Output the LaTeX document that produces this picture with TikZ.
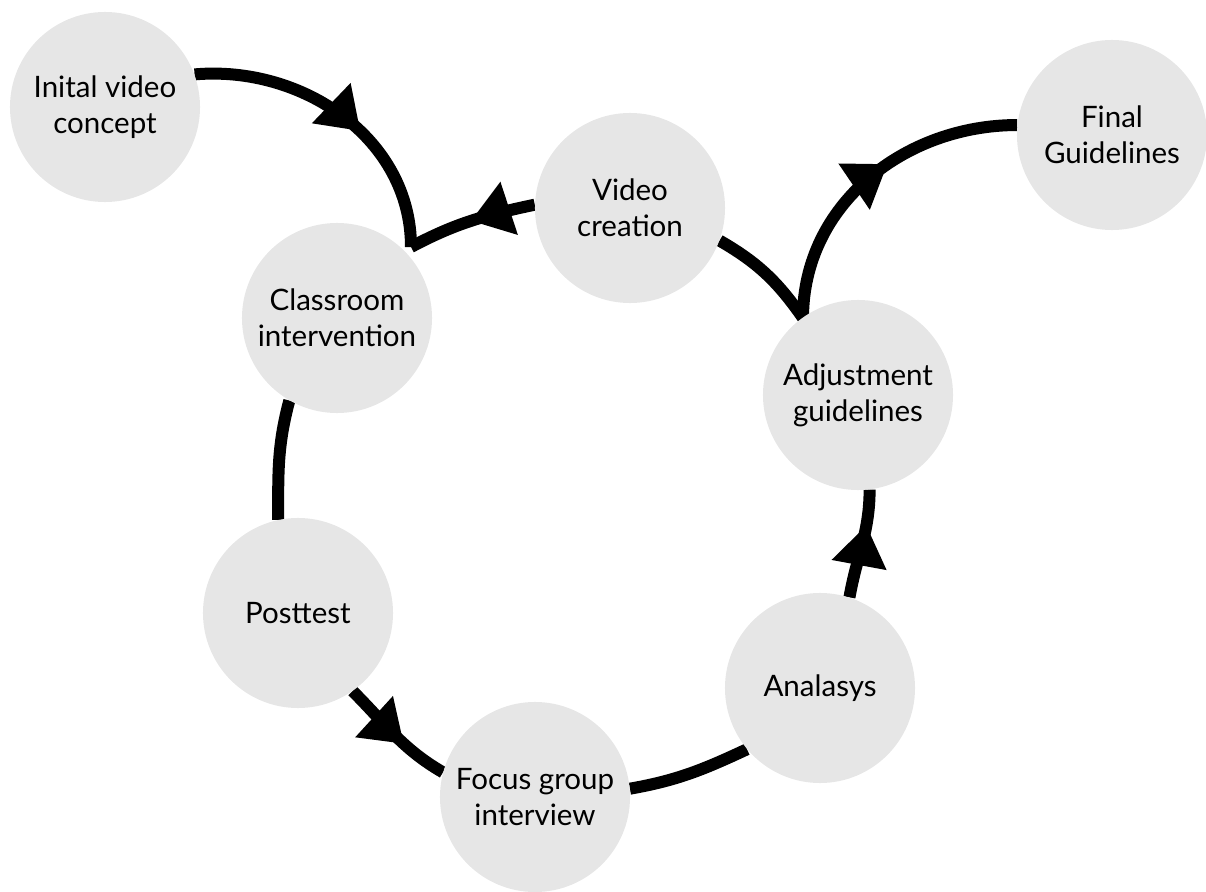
\documentclass[tikz,border=0pt]{standalone}
\usepackage{fontspec}
\setmainfont{Lato}
\usetikzlibrary{arrows.meta,decorations.markings,backgrounds}

\definecolor{Bulle}{HTML}{E6E6E6}

\tikzset{
 etape/.style={circle, fill=Bulle, minimum size=4.75cm, inner sep=0pt, align=center, font=\fontsize{21}{25.5}\selectfont},
 lien/.style={line width=0.3cm},
 fleche/.style={lien, decoration={markings, mark=at position #1 with {\arrow{Triangle[length=1.0cm,width=1.4cm,line width=0pt]}}}, postaction={decorate}},
}

\begin{document}
\begin{tikzpicture}[x={(0.025cm,0)}, y={(0,-0.025cm)}]
\useasboundingbox (0,0) rectangle (1206,892);

%%%%%%%%%% Etapes du cycle %%%%%%%%%%
 \node [etape] (init)  at (105,107)  {Inital video\\concept};
 \node [etape] (final) at (1112,135) {Final\\Guidelines};
 \node [etape] (video) at (630,208)  {Video\\creation};
 \node [etape] (class) at (337,318)  {Classroom\\intervention};
 \node [etape] (adj)   at (858,395)  {Adjustment\\guidelines};
 \node [etape] (post)  at (298,613)  {Posttest};
 \node [etape] (ana)   at (820,688)  {Analasys};
 \node [etape] (focus) at (535,797)  {Focus group\\interview};

 % points de jonction
 \coordinate (J1) at (411,247) ;
 \coordinate (J2) at (803,318) ;

%%%%%%%%%% Liens %%%%%%%%%%
\begin{pgfonlayer}{background}
 \draw [fleche=0.58] (init.20) to[out=5, in=90] (J1);
 \draw [fleche=0.5] (video.178) to[out=192, in=28] (J1);
 \draw [lien] (class.240) to[out=255, in=90] (post.102);
 \draw [fleche=0.6] (post.305) to[out=-45, in=150] (focus.165);
 \draw [lien] (focus.5) to[out=10, in=205] (ana.220);
 \draw [fleche=0.67] (ana.72) to[out=80, in=-90] (adj.277);
 \draw [lien] (video.-20) to[out=-30, in=125] (J2);
 \draw [fleche=0.57] (J2) to[out=90, in=180] (final.174);
\end{pgfonlayer}

\end{tikzpicture}
\end{document}
